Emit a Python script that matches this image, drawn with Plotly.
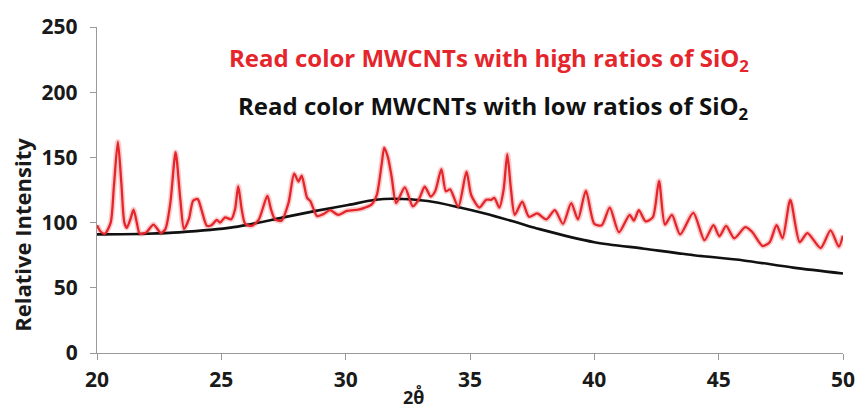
import plotly.graph_objects as go

# Red series: "high ratios of SiO2" (2θ, intensity)
red_x = [20.00, 20.15, 20.32, 20.55, 20.68, 20.84, 20.98, 21.10, 21.20, 21.35, 21.47, 21.60, 21.72,
         21.98, 22.27, 22.57, 22.75, 22.95, 23.16, 23.35, 23.50, 23.70, 23.87, 24.05, 24.20, 24.42,
         24.60, 24.82, 24.95, 25.15, 25.40, 25.55, 25.68, 25.82, 25.96, 26.22, 26.50, 26.85, 27.00,
         27.16, 27.42, 27.70, 27.93, 28.10, 28.23, 28.45, 28.58, 28.85, 29.10, 29.37, 29.70, 30.05,
         30.50, 30.78, 31.05, 31.25, 31.45, 31.55, 31.70, 31.85, 32.03, 32.38, 32.70, 32.95, 33.18,
         33.42, 33.60, 33.85, 34.03, 34.20, 34.53, 34.86, 35.05, 35.38, 35.65, 35.85, 35.98, 36.18,
         36.35, 36.50, 36.65, 36.80, 37.10, 37.37, 37.70, 38.07, 38.41, 38.74, 39.07, 39.34, 39.66,
         40.00, 40.30, 40.62, 40.99, 41.42, 41.59, 41.79, 42.06, 42.35, 42.60, 42.84, 43.12, 43.45,
         43.98, 44.43, 44.79, 45.03, 45.30, 45.63, 46.07, 46.34, 46.77, 47.05, 47.33, 47.57, 47.88,
         48.26, 48.57, 49.10, 49.50, 49.83, 50.00]
red_y = [98, 93, 91.5, 100, 128, 162, 130, 100, 96, 103, 110, 100, 91.5,
         92.5, 98.5, 92, 95, 115, 154, 118, 95, 103, 117, 118, 110, 97.5,
         98, 102, 100, 104, 102.5, 110, 128, 110, 99, 97.5, 102, 120.5, 110,
         102.5, 101.5, 115, 137.5, 131.5, 136, 119, 116.5, 105, 106.5, 109.5, 106, 109,
         110, 111.5, 114, 121, 145, 157.5, 150, 135, 115, 127, 112.5, 118, 127.5,
         120, 124, 141, 124, 125.5, 112, 139, 121, 111.5, 117.5, 117.5, 119, 111.5,
         125, 152.5, 125, 106, 116, 104.5, 107, 102.5, 109.5, 99, 115, 102.5, 124.5,
         99, 98, 111.5, 92.5, 106, 101.5, 109.5, 101, 104, 132, 98.5, 106, 91,
         107.5, 86.5, 98, 89.5, 97.5, 88, 96.5, 93, 82, 85, 98, 88, 117.5,
         85, 92, 80.5, 94, 81.5, 90]

# Black series: "low ratios of SiO2"
black_x = [20.0, 22.0, 23.3, 25.5, 27.5, 28.8, 30.1, 31.2, 31.9, 33.3, 34.5, 35.6, 36.9, 37.8,
           40.0, 42.0, 44.0, 46.0, 48.0, 50.0]
black_y = [91, 91.5, 92.5, 96.5, 104, 109, 113.5, 117.5, 118.3, 116.5, 112, 107, 100, 95,
           85, 80, 75, 71, 65.5, 61]

x_ticks = [20, 25, 30, 35, 40, 45, 50]
y_ticks = [0, 50, 100, 150, 200, 250]

label_high = "Read color MWCNTs with high ratios of SiO<sub>2</sub>"
label_low = "Read color MWCNTs with low ratios of SiO<sub>2</sub>"

FONT = "Open Sans"
RED = "#e4262c"

fig = go.Figure()
fig.add_trace(go.Scatter(x=red_x, y=red_y, mode="lines",
                         line=dict(color="rgba(240,110,110,0.35)", width=5.5, shape="spline", smoothing=0.7),
                         hoverinfo="skip", showlegend=False))
fig.add_trace(go.Scatter(x=black_x, y=black_y, mode="lines",
                         line=dict(color="#111111", width=2.6, shape="spline", smoothing=0.8),
                         showlegend=False))
fig.add_trace(go.Scatter(x=red_x, y=red_y, mode="lines",
                         line=dict(color=RED, width=2.3, shape="spline", smoothing=0.7),
                         showlegend=False))

fig.update_layout(
    width=867, height=413,
    margin=dict(l=97, r=13, t=20, b=60),
    paper_bgcolor="white", plot_bgcolor="white",
    font=dict(family=FONT, color="#1a1a1a"),
    xaxis=dict(range=[20, 50], tickvals=x_ticks, ticks="outside", ticklen=6, tickcolor="#9a9a9a",
               showline=True, linecolor="#9a9a9a", linewidth=1.3, showgrid=False, zeroline=False,
               ticklabelstandoff=2,
               tickfont=dict(family=FONT, size=21, weight="bold", color="#1a1a1a")),
    yaxis=dict(range=[0, 250], tickvals=y_ticks, ticks="outside", ticklen=6, tickcolor="#9a9a9a",
               showline=True, linecolor="#9a9a9a", linewidth=1.3, showgrid=False, zeroline=False,
               ticklabelstandoff=8,
               tickfont=dict(family=FONT, size=21, weight="bold", color="#1a1a1a")),
    annotations=[
        dict(text=label_high, xref="paper", yref="paper", x=0.526, y=0.903, showarrow=False,
             font=dict(family=FONT, size=24, weight="bold", color=RED), xanchor="center", yanchor="middle"),
        dict(text=label_low, xref="paper", yref="paper", x=0.532, y=0.756, showarrow=False,
             font=dict(family=FONT, size=24, weight="bold", color="#111111"), xanchor="center", yanchor="middle"),
        dict(text="Relative Intensity", xref="paper", yref="y", x=-0.1, y=91, showarrow=False,
             textangle=-90, font=dict(family=FONT, size=22, weight="bold", color="#1a1a1a"),
             xanchor="center", yanchor="middle"),
        dict(text="2θ̊", xref="x", yref="paper", x=32.74, y=-0.09, showarrow=False,
             font=dict(family=FONT, size=18, weight="bold", color="#1a1a1a"),
             xanchor="center", yanchor="top"),
    ],
)

fig.write_html("out.html")
